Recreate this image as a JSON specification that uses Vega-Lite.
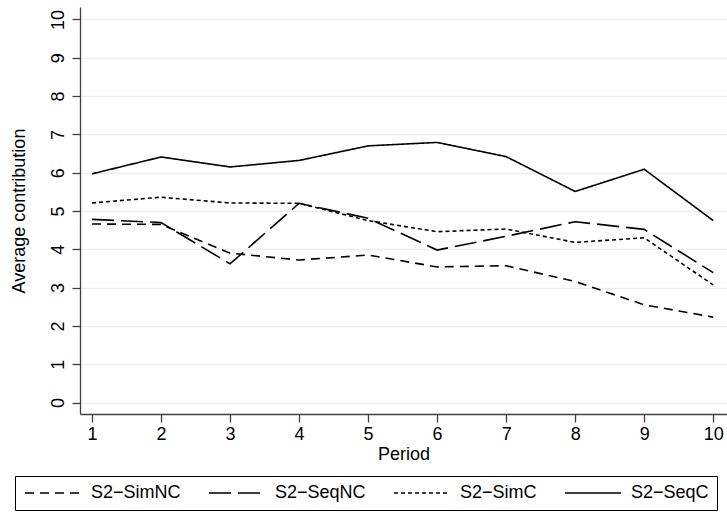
{
  "$schema": "https://vega.github.io/schema/vega-lite/v6.json",
  "autosize": {"type": "none"},
  "padding": {"left": 80, "top": 7, "right": 0, "bottom": 99},
  "width": 647,
  "height": 407,
  "background": "white",
  "config": {
    "view": {"stroke": null},
    "font": "Liberation Sans",
    "axis": {"labelFont": "Liberation Sans", "titleFont": "Liberation Sans", "labelColor": "black", "titleColor": "black", "titleFontWeight": "normal", "labelFontSize": 18, "titleFontSize": 18},
    "legend": {"labelFont": "Liberation Sans", "labelFontSize": 18, "labelColor": "black"}
  },
  "data": {
    "values": [
      {"period": 1, "series": "S2−SimNC", "value": 4.66},
      {"period": 2, "series": "S2−SimNC", "value": 4.65},
      {"period": 3, "series": "S2−SimNC", "value": 3.90},
      {"period": 4, "series": "S2−SimNC", "value": 3.72},
      {"period": 5, "series": "S2−SimNC", "value": 3.85},
      {"period": 6, "series": "S2−SimNC", "value": 3.54},
      {"period": 7, "series": "S2−SimNC", "value": 3.57},
      {"period": 8, "series": "S2−SimNC", "value": 3.16},
      {"period": 9, "series": "S2−SimNC", "value": 2.55},
      {"period": 10, "series": "S2−SimNC", "value": 2.23},
      {"period": 1, "series": "S2−SeqNC", "value": 4.78},
      {"period": 2, "series": "S2−SeqNC", "value": 4.70},
      {"period": 3, "series": "S2−SeqNC", "value": 3.62},
      {"period": 4, "series": "S2−SeqNC", "value": 5.20},
      {"period": 5, "series": "S2−SeqNC", "value": 4.81},
      {"period": 6, "series": "S2−SeqNC", "value": 3.98},
      {"period": 7, "series": "S2−SeqNC", "value": 4.34},
      {"period": 8, "series": "S2−SeqNC", "value": 4.72},
      {"period": 9, "series": "S2−SeqNC", "value": 4.52},
      {"period": 10, "series": "S2−SeqNC", "value": 3.39},
      {"period": 1, "series": "S2−SimC", "value": 5.21},
      {"period": 2, "series": "S2−SimC", "value": 5.36},
      {"period": 3, "series": "S2−SimC", "value": 5.21},
      {"period": 4, "series": "S2−SimC", "value": 5.20},
      {"period": 5, "series": "S2−SimC", "value": 4.75},
      {"period": 6, "series": "S2−SimC", "value": 4.46},
      {"period": 7, "series": "S2−SimC", "value": 4.53},
      {"period": 8, "series": "S2−SimC", "value": 4.18},
      {"period": 9, "series": "S2−SimC", "value": 4.30},
      {"period": 10, "series": "S2−SimC", "value": 3.07},
      {"period": 1, "series": "S2−SeqC", "value": 5.97},
      {"period": 2, "series": "S2−SeqC", "value": 6.41},
      {"period": 3, "series": "S2−SeqC", "value": 6.15},
      {"period": 4, "series": "S2−SeqC", "value": 6.32},
      {"period": 5, "series": "S2−SeqC", "value": 6.70},
      {"period": 6, "series": "S2−SeqC", "value": 6.79},
      {"period": 7, "series": "S2−SeqC", "value": 6.42},
      {"period": 8, "series": "S2−SeqC", "value": 5.51},
      {"period": 9, "series": "S2−SeqC", "value": 6.09},
      {"period": 10, "series": "S2−SeqC", "value": 4.75}
    ]
  },
  "mark": {"type": "line", "color": "black", "strokeWidth": 1.6, "clip": true},
  "encoding": {
    "x": {
      "field": "period", "type": "quantitative",
      "scale": {"domain": [0.826, 10.2], "nice": false, "zero": false},
      "axis": {"values": [1, 2, 3, 4, 5, 6, 7, 8, 9, 10], "title": "Period", "grid": false,
        "domainColor": "#404040", "domainWidth": 1.3, "tickColor": "#404040", "tickWidth": 1.3, "tickSize": 8,
        "labelPadding": 3, "titlePadding": 2, "labelFlush": false}
    },
    "y": {
      "field": "value", "type": "quantitative",
      "scale": {"domain": [-0.3, 10.326], "nice": false, "zero": false},
      "axis": {"values": [0, 1, 2, 3, 4, 5, 6, 7, 8, 9, 10], "title": "Average contribution", "grid": true,
        "gridColor": "#e9f0f2", "gridWidth": 1.3,
        "domainColor": "#404040", "domainWidth": 1.3, "tickColor": "#404040", "tickWidth": 1.3, "tickSize": 8,
        "labelAngle": -90, "labelAlign": "center", "labelBaseline": "bottom", "labelPadding": 5, "titlePadding": 21, "labelFlush": false}
    },
    "strokeDash": {
      "field": "series", "type": "nominal",
      "scale": {
        "domain": ["S2−SimNC", "S2−SeqNC", "S2−SimC", "S2−SeqC"],
        "range": [[9, 6], [22, 7], [4, 3], [1, 0]]
      },
      "legend": {
        "title": null, "orient": "none", "legendX": -65, "legendY": 469,
        "direction": "horizontal", "columns": 4, "columnPadding": 25,
        "symbolType": "M-2.5,0H17.5", "symbolSize": 31.36, "symbolStrokeWidth": 1.5, "symbolStrokeColor": "black",
        "labelOffset": 50, "strokeColor": "black", "padding": 8
      }
    }
  }
}
